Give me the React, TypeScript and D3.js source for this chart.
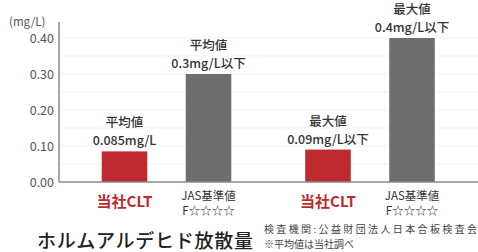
import React from 'react';
import * as d3 from 'd3';

// ── Data ──────────────────────────────────────────────────────────────────────
const groups = ['average', 'maximum'];
const series = ['clt', 'jas'];
const values: Record<string, number[]> = {
  average: [0.085, 0.3],
  maximum: [0.09, 0.4],
};
const valueHeads = [
  ['平均値', '平均値'],
  ['最大値', '最大値'],
];
const valueTexts = [
  ['0.085mg/L', '0.3mg/L以下'],
  ['0.09mg/L以下', '0.4mg/L以下'],
];
const yTicks = [0, 0.1, 0.2, 0.3, 0.4];
const gridTicks = [0.05, 0.1, 0.15, 0.2, 0.25, 0.3, 0.35, 0.4];

const W = 478;
const H = 252;
const FONT = '"Noto Sans CJK JP", "Noto Sans", sans-serif';
const RED = '#be2a30';
const GRAY = '#6e6e6e';

export default function App() {
  const axisX = 59;
  const baseY = 182;

  const y = d3.scaleLinear().domain([0, 0.4]).range([baseY, 38]);
  const x0 = d3.scaleBand().domain(groups).range([64.75, 471.75]).padding(0);
  const x1 = d3
    .scaleBand()
    .domain(series)
    .range([0, x0.bandwidth()])
    .paddingInner(0.458)
    .paddingOuter(0.44);
  const bw = x1.bandwidth();

  return (
    <svg
      width={W}
      height={H}
      style={{ position: 'absolute', left: 0, top: 0, background: '#fff', fontFamily: FONT }}
    >
      {/* faint grid */}
      {gridTicks.map((t) => (
        <line key={t} x1={axisX} x2={W} y1={y(t)} y2={y(t)} stroke="#f3f3f3" strokeWidth={1} />
      ))}

      {/* bars + labels */}
      {groups.map((g, gi) =>
        series.map((s, si) => {
          const v = values[g][si];
          const bx = (x0(g) ?? 0) + (x1(s) ?? 0);
          const cx = bx + bw / 2;
          const top = y(v);
          return (
            <g key={g + s}>
              <rect x={bx} y={top} width={bw} height={baseY - top} fill={si === 0 ? RED : GRAY} />
              <text x={cx} y={top - 24} textAnchor="middle" fontSize={12.5} fontWeight={500} fill="#333">
                {valueHeads[gi][si]}
              </text>
              <text x={cx} y={top - 6} textAnchor="middle" fontSize={12.5} fontWeight={500} fill="#333">
                {valueTexts[gi][si]}
              </text>
              {si === 0 ? (
                <text x={cx} y={207} textAnchor="middle" fontSize={15} fontWeight={700} fill={RED}>
                  当社CLT
                </text>
              ) : (
                <g>
                  <text x={cx} y={200} textAnchor="middle" fontSize={11.5} fill="#333">
                    JAS基準値
                  </text>
                  <text x={cx} y={215} textAnchor="middle" fontSize={11.5} fill="#333">
                    F☆☆☆☆
                  </text>
                </g>
              )}
            </g>
          );
        }),
      )}

      {/* axes */}
      <line x1={axisX} x2={axisX} y1={22} y2={baseY} stroke="#8a8a8a" strokeWidth={1.5} />
      <line x1={axisX} x2={W} y1={baseY} y2={baseY} stroke="#8a8a8a" strokeWidth={1.5} />
      {yTicks.map((t) => (
        <text key={t} x={54} y={y(t) + 4.5} textAnchor="end" fontSize={12.5} fill="#555">
          {d3.format('.2f')(t)}
        </text>
      ))}
      <text x={9} y={26} fontSize={11.5} fill="#555">
        (mg/L)
      </text>

      {/* title and notes */}
      <text x={37} y={248} fontSize={19} fontWeight={500} fill="#222" textLength={216}>
        ホルムアルデヒド放散量
      </text>
      <text x={264} y={233} fontSize={10} fill="#444" textLength={213}>
        検査機関:公益財団法人日本合板検査会
      </text>
      <text x={264} y={248} fontSize={10} fill="#444">
        ※平均値は当社調べ
      </text>
    </svg>
  );
}
